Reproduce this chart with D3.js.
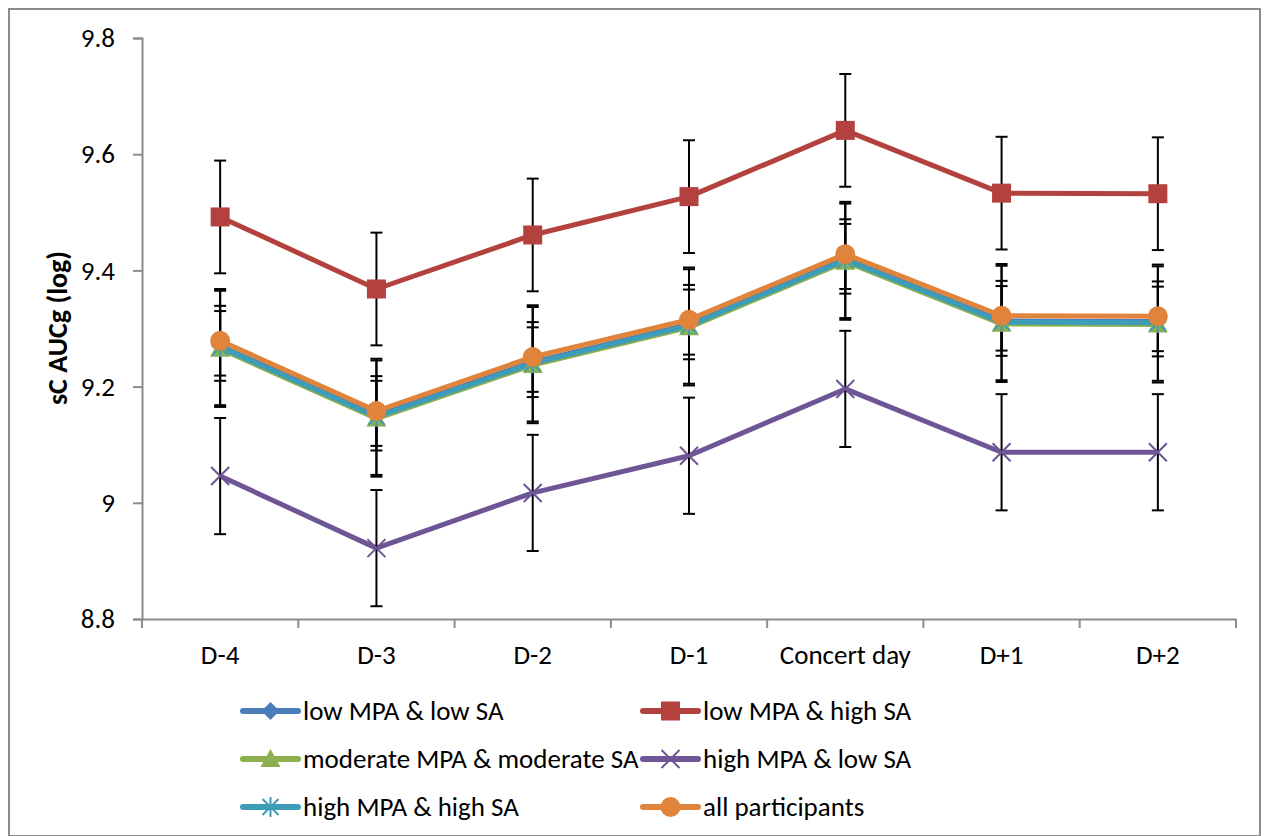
<html>
<head>
    <title>sC AUCg</title>
</head>
<body style="margin: 0; background: #fff;">
    <svg></svg>
</body>
<script src="https://cdn.jsdelivr.net/npm/d3@7"></script>
<script>
const width = 1266;
const height = 836;

const days = ["D-4", "D-3", "D-2", "D-1", "Concert day", "D+1", "D+2"];
const yTicks = [8.8, 9, 9.2, 9.4, 9.6, 9.8];

const names = ["low MPA & low SA", "low MPA & high SA", "moderate MPA & moderate SA",
               "high MPA & low SA", "high MPA & high SA", "all participants"];
const lowLow   = [9.270, 9.150, 9.242, 9.307, 9.420, 9.313, 9.312];
const lowHigh  = [9.492, 9.368, 9.461, 9.527, 9.641, 9.533, 9.532];
const modMod   = [9.265, 9.145, 9.237, 9.302, 9.415, 9.308, 9.307];
const highLow  = [9.046, 8.922, 9.017, 9.081, 9.196, 9.087, 9.087];
const highHigh = [9.268, 9.148, 9.240, 9.305, 9.418, 9.311, 9.310];
const allPart  = [9.279, 9.158, 9.251, 9.315, 9.428, 9.322, 9.321];
const errs = [0.06, 0.097, 0.1, 0.1, 0.1, 0.06];

const colors  = ["#4A7DBA", "#B3423F", "#8DB04E", "#6E5696", "#3D9CB8", "#E0843C"];
const shapes  = ["diamond", "square", "triangle", "x", "star", "circle"];
const seriesVals = [lowLow, lowHigh, modMod, highLow, highHigh, allPart];

const series = names.map((n, i) => ({
    name: n, color: colors[i], shape: shapes[i], err: errs[i],
    vals: seriesVals[i].map((v, j) => ({day: days[j], v: v}))
}));

const font = "Carlito, Lato, 'DejaVu Sans', sans-serif";
const svg = d3.select("svg").attr("width", width).attr("height", height);

// chart frame
svg.append("rect")
    .attr("x", 9).attr("y", 9).attr("width", 1251).attr("height", 827)
    .attr("fill", "none").attr("stroke", "#8c8c8c").attr("stroke-width", 2);

const x = d3.scaleBand().domain(days).range([142, 1236]);
const y = d3.scaleLinear().domain([8.8, 9.8]).range([619, 38]);

// y axis
const yAxis = svg.append("g")
    .attr("transform", "translate(142,0)")
    .call(d3.axisLeft(y).tickValues(yTicks).tickSize(9).tickPadding(18)
        .tickFormat(d => d3.format("")(d)));
// x axis
const xAxis = svg.append("g")
    .attr("transform", "translate(0,619)")
    .call(d3.axisBottom(x).tickSize(0).tickPadding(26));
xAxis.append("g").selectAll("line")
    .data(days.map(d => x(d)).concat([x.range()[1]]))
    .join("line")
    .attr("x1", d => d).attr("x2", d => d)
    .attr("y1", 0).attr("y2", 9);

[yAxis, xAxis].forEach(a => {
    a.select(".domain").attr("stroke", "#8c8c8c").attr("stroke-width", 2);
    a.selectAll("line").attr("stroke", "#8c8c8c").attr("stroke-width", 2);
    a.selectAll("text").attr("font-family", font).attr("font-size", 27).attr("fill", "#000");
});

// y title
svg.append("text")
    .attr("transform", "translate(67,328) rotate(-90)")
    .attr("text-anchor", "middle")
    .attr("font-family", font).attr("font-weight", "bold").attr("font-size", 28)
    .text("sC AUCg (log)");

const cx = d => x(d.day) + x.bandwidth() / 2;
const line = d3.line().x(cx).y(d => y(d.v));

// lines
svg.append("g").selectAll("path")
    .data(series)
    .join("path")
    .attr("d", s => line(s.vals))
    .attr("fill", "none")
    .attr("stroke", s => s.color)
    .attr("stroke-width", 5)
    .attr("stroke-linejoin", "round");

// error bars
const eb = svg.append("g").attr("stroke", "#000").attr("stroke-width", 2);
series.forEach(s => {
    s.vals.forEach(d => {
        const xx = cx(d), y1 = y(d.v + s.err), y2 = y(d.v - s.err);
        eb.append("line").attr("x1", xx).attr("x2", xx).attr("y1", y1).attr("y2", y2);
        eb.append("line").attr("x1", xx - 6).attr("x2", xx + 6).attr("y1", y1).attr("y2", y1);
        eb.append("line").attr("x1", xx - 6).attr("x2", xx + 6).attr("y1", y2).attr("y2", y2);
    });
});

function marker(g, shape, color, px, py) {
    if (shape === "diamond") {
        g.append("path").attr("d", `M${px},${py - 9}L${px + 9},${py}L${px},${py + 9}L${px - 9},${py}Z`).attr("fill", color);
    } else if (shape === "square") {
        g.append("rect").attr("x", px - 9.5).attr("y", py - 9.5).attr("width", 19).attr("height", 19).attr("fill", color);
    } else if (shape === "triangle") {
        g.append("path").attr("d", `M${px},${py - 10}L${px + 10},${py + 8}L${px - 10},${py + 8}Z`).attr("fill", color);
    } else if (shape === "x") {
        g.append("path").attr("d", `M${px - 9},${py - 9}L${px + 9},${py + 9}M${px - 9},${py + 9}L${px + 9},${py - 9}`)
            .attr("stroke", color).attr("stroke-width", 2);
    } else if (shape === "star") {
        g.append("path").attr("d", `M${px - 8},${py - 8}L${px + 8},${py + 8}M${px - 8},${py + 8}L${px + 8},${py - 8}M${px},${py - 10}L${px},${py + 10}`)
            .attr("stroke", color).attr("stroke-width", 2);
    } else {
        g.append("circle").attr("cx", px).attr("cy", py).attr("r", 10).attr("fill", color);
    }
}

// markers
const mk = svg.append("g");
series.forEach(s => s.vals.forEach(d => marker(mk, s.shape, s.color, cx(d), y(d.v))));

// legend
const legX = [243, 643];
const legY = [711, 759, 807];
const leg = svg.append("g");
series.forEach((s, i) => {
    const lx = legX[i % 2], ly = legY[Math.floor(i / 2)];
    leg.append("line").attr("x1", lx).attr("x2", lx + 55).attr("y1", ly).attr("y2", ly)
        .attr("stroke", s.color).attr("stroke-width", 6).attr("stroke-linecap", "round");
    marker(leg, s.shape, s.color, lx + 27.5, ly);
    leg.append("text").attr("x", lx + 60).attr("y", ly).attr("dy", "0.35em")
        .attr("font-family", font).attr("font-size", 27)
        .text(s.name);
});
</script>
</html>
